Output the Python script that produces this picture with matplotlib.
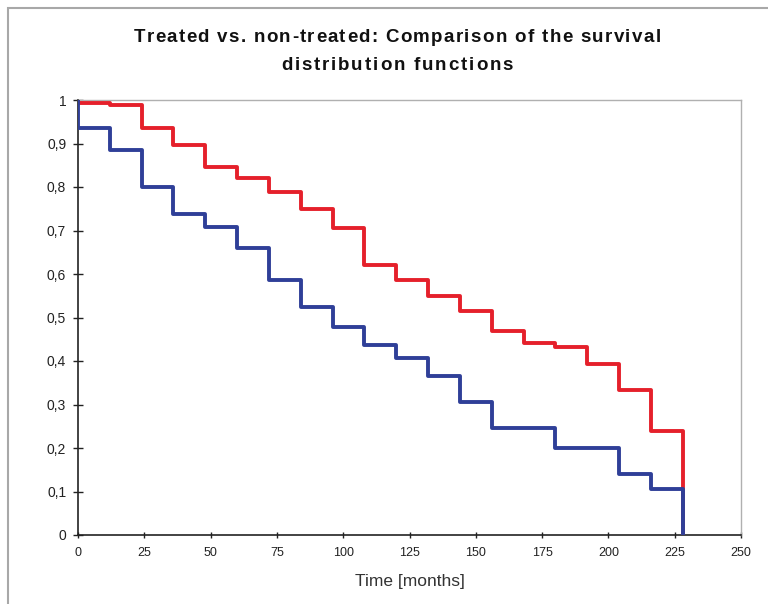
import matplotlib
matplotlib.use("Agg")
import matplotlib.pyplot as plt
from matplotlib.patches import Rectangle
from matplotlib.font_manager import FontProperties

plt.rcParams['font.family'] = ['Liberation Sans', 'DejaVu Sans']

months = [0, 12, 24, 36, 48, 60, 72, 84, 96, 108, 120, 132, 144, 156, 168, 180, 192, 204, 216, 228]
treated = [0.994, 0.988, 0.936, 0.896, 0.846, 0.820, 0.789, 0.750, 0.705, 0.621,
           0.587, 0.550, 0.515, 0.470, 0.442, 0.433, 0.393, 0.333, 0.238, 0.0]
non_treated = [0.936, 0.885, 0.800, 0.738, 0.707, 0.660, 0.586, 0.523, 0.478, 0.437,
               0.408, 0.366, 0.305, 0.246, 0.246, 0.200, 0.200, 0.140, 0.105, 0.0]
x_ticks = [0, 25, 50, 75, 100, 125, 150, 175, 200, 225, 250]
y_ticks = [0, 0.1, 0.2, 0.3, 0.4, 0.5, 0.6, 0.7, 0.8, 0.9, 1]
y_labels = ['0', '0,1', '0,2', '0,3', '0,4', '0,5', '0,6', '0,7', '0,8', '0,9', '1']
title_lines = ['Treated vs. non-treated: Comparison of the survival', 'distribution functions']

W, H = 768, 604
fig = plt.figure(figsize=(W / 100, H / 100), dpi=100)
fig.patch.set_facecolor('white')

# outer chart border
fig.patches.append(Rectangle((8 / W, -0.1), 1.2, 1.1 - 8 / H, transform=fig.transFigure,
                             fill=False, edgecolor='#a8a8a8', linewidth=1.5, zorder=0))

ax = fig.add_axes([78 / W, (H - 535) / H, (741 - 78) / W, (535 - 100) / H])

ax.step([0] + months, [1.0] + treated, where='post', color='#e5202b', linewidth=2.8, zorder=3)
ax.step([0] + months, [1.0] + non_treated, where='post', color='#2f3f98', linewidth=2.8, zorder=4)

ax.set_xlim(0, 250)
ax.set_ylim(0, 1)
ax.set_xticks(x_ticks)
ax.set_xticklabels([str(t) for t in x_ticks])
ax.set_yticks(y_ticks)
ax.set_yticklabels(y_labels)

for s in ['left', 'bottom']:
    ax.spines[s].set_color('#222222')
    ax.spines[s].set_linewidth(1.2)
for s in ['top', 'right']:
    ax.spines[s].set_color('#b0b0b0')
    ax.spines[s].set_linewidth(1.0)

ax.tick_params(axis='both', direction='inout', length=7, width=1.0, color='#222222',
               labelcolor='#222222')
ax.tick_params(axis='y', pad=5, labelsize=10)
ax.tick_params(axis='x', pad=6, length=5, labelsize=9)

ax.set_xlabel('Time [months]', fontsize=12.5, color='#333333', labelpad=11)

# letter-spaced title
renderer = fig.canvas.get_renderer()
fp = FontProperties(family='Liberation Sans', weight='bold', size=13.5)


def text_width(s):
    w, h, d = renderer.get_text_width_height_descent(s, fp, ismath=False)
    return w


def char_adv(ch):
    return text_width('H' + ch + 'H') - text_width('HH')


def spaced_text(s, cx, cy, target_w):
    advs = [char_adv(c) for c in s]
    natural = sum(advs)
    extra = (target_w - natural) / max(len(s) - 1, 1)
    x = cx - target_w / 2
    for c, a in zip(s, advs):
        fig.text(x / W, 1 - cy / H, c, ha='left', va='center', fontproperties=fp,
                 color='#111111')
        x += a + extra


spaced_text(title_lines[0], 397, 37, 527)
spaced_text(title_lines[1], 397, 65, 232)

fig.savefig('out.png', dpi=100, facecolor='white')
